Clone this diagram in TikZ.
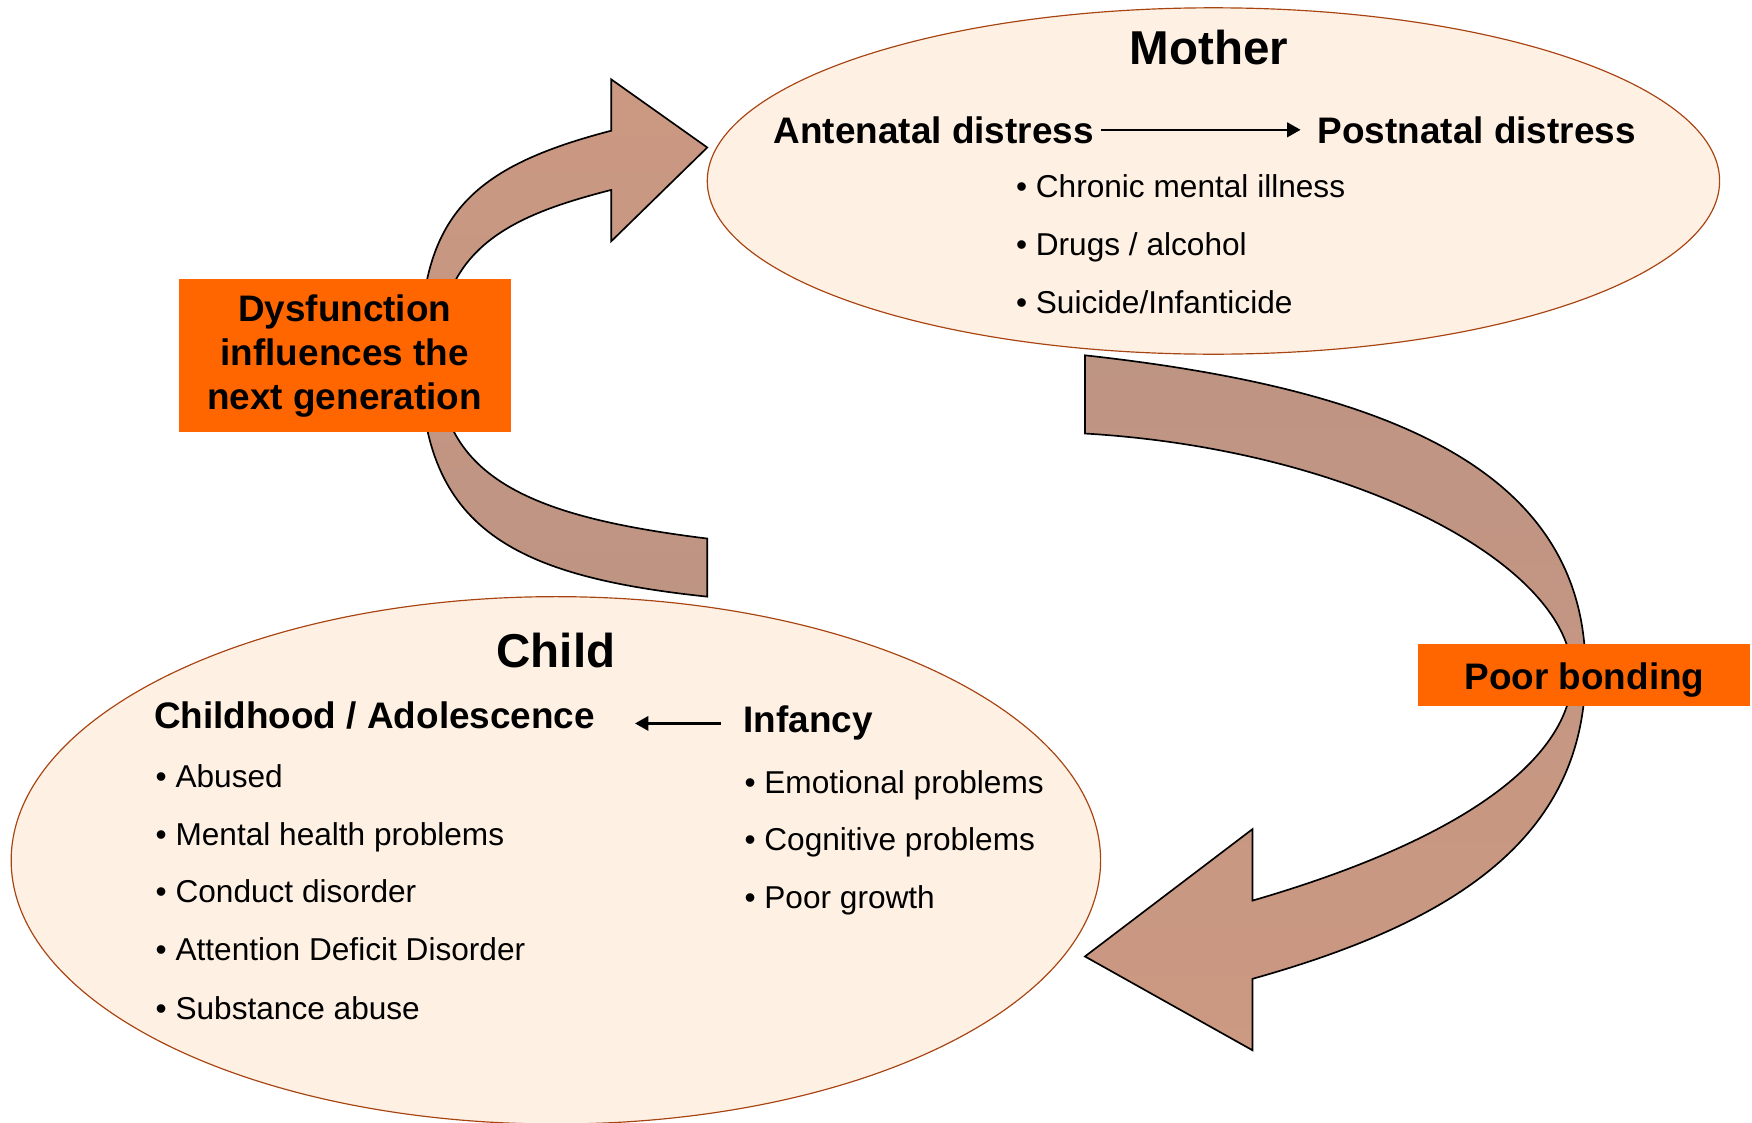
\documentclass[tikz,border=0pt]{standalone}
\usepackage{fontspec}
\setmainfont{Liberation Sans}
\usetikzlibrary{shapes.geometric,arrows.meta}

\definecolor{cream}{RGB}{254,240,227}
\definecolor{rim}{RGB}{168,68,18}
\definecolor{clayhi}{RGB}{204,153,130}
\definecolor{claylo}{RGB}{190,148,131}
\definecolor{flame}{RGB}{255,102,0}

\newcommand\cyctitle{\fontsize{24.2}{29}\selectfont\bfseries}
\newcommand\cychead{\fontsize{18.8}{22.4}\selectfont\bfseries}
\newcommand\cyclist{\fontsize{16.1}{19}\selectfont}

\tikzset{
  phase/.style={ellipse,draw=rim,fill=cream,line width=0.6pt,inner sep=0pt},
  bigarrow/.style={draw=black,line width=0.85pt,line join=miter},
  tag/.style={fill=flame,minimum width=59.4mm,align=center,font=\cychead},
  link/.style={-{Triangle[length=2.4mm,width=2.6mm]},line width=1.1pt}
}

\begin{document}
\begin{tikzpicture}[x=0.2mm,y=-0.2mm]
  \useasboundingbox (0,0) rectangle (1568,1005);

  \node[phase,minimum width=181.2mm,minimum height=62mm] (mother) at (1086,162) {};
  \node[phase,minimum width=195mm,minimum height=94.4mm] (child) at (497.5,770) {};

  % child back to mother
  \shadedraw[bigarrow,top color=clayhi,bottom color=claylo]
    (633,534) .. controls (453,515) and (376,470) .. (376,318)
    .. controls (376,193) and (422,149.5) .. (547,117)
    -- (547,71) -- (633,132) -- (547,216) -- (547,170)
    .. controls (457,193) and (392,222) .. (392,322)
    .. controls (392,430) and (480,463) .. (633,482) -- cycle;

  % mother down to child
  \shadedraw[bigarrow,top color=claylo,bottom color=clayhi]
    (971,318) .. controls (1241,347.7) and (1419,420) .. (1419,600)
    .. controls (1419,750) and (1301,825.6) .. (1121,876)
    -- (1121,940) -- (971,856) -- (1121,742) -- (1121,806)
    .. controls (1341,742) and (1407,664) .. (1407,604)
    .. controls (1407,505) and (1210,402) .. (971,388) -- cycle;

  \node[tag,minimum height=27.4mm] (dysf) at (308.5,318.5) {Dysfunction\\influences the\\next generation};
  \node[tag,minimum height=11.2mm,text height=14.8pt,text depth=0pt] (bond) at (1418,604) {Poor bonding};

  \begin{scope}[every node/.style={anchor=base,inner sep=0pt,font=\cyctitle}]
    \node (mtitle) at (1082,58) {Mother};
    \node (ctitle) at (497.5,597) {Child};
  \end{scope}

  \begin{scope}[every node/.style={anchor=base west,inner sep=0pt,font=\cychead}]
    \node (ante) at (692,128) {Antenatal distress};
    \node (post) at (1179,128) {Postnatal distress};
    \node (youth) at (137.5,652) {Childhood / Adolescence};
    \node (infancy) at (665,656) {Infancy};
  \end{scope}

  \begin{scope}[every node/.style={anchor=base west,inner sep=0pt,font=\cyclist}]
    \node (m1) at (909,177) {• Chronic mental illness};
    \node (m2) at (909,229) {• Drugs / alcohol};
    \node (m3) at (909,281) {• Suicide/Infanticide};
    \node (c1) at (139,705) {• Abused};
    \node (c2) at (139,757) {• Mental health problems};
    \node (c3) at (139,808) {• Conduct disorder};
    \node (c4) at (139,860) {• Attention Deficit Disorder};
    \node (c5) at (139,912) {• Substance abuse};
    \node (i1) at (666,710) {• Emotional problems};
    \node (i2) at (666,761) {• Cognitive problems};
    \node (i3) at (666,813) {• Poor growth};
  \end{scope}

  \path (ante) edge[link,shorten <=1.2mm,shorten >=3mm] (post);
  \path (infancy.west) edge[link,shorten <=4mm,shorten >=7.1mm] (infancy.west -| youth.east);

\end{tikzpicture}
\end{document}
